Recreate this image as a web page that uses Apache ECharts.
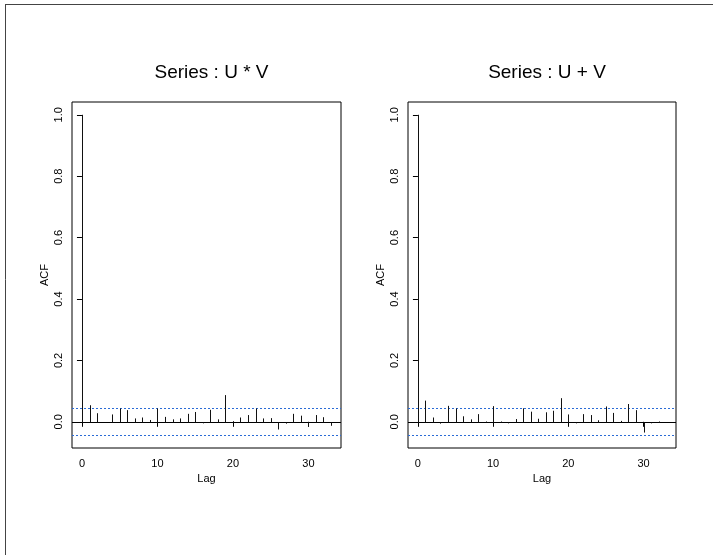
<!DOCTYPE html>
<html>
<head>
<meta charset="utf-8">
<script src="https://cdn.jsdelivr.net/npm/echarts@6/dist/echarts.min.js"></script>
<style>
  html, body { margin: 0; padding: 0; background: #fff; }
  #chart { width: 713px; height: 555px; }
</style>
</head>
<body>
<div id="chart"></div>
<script>
// lags 0..33
var lags = [0,1,2,3,4,5,6,7,8,9,10,11,12,13,14,15,16,17,18,19,20,21,22,23,24,25,26,27,28,29,30,31,32,33];

// ACF
var acfUxV = [1.0, 0.054, 0.028, -0.002, 0.024, 0.0435, 0.038, 0.011, 0.014, 0.006,
  0.0435, 0.016, 0.008, 0.011, 0.026, 0.032, -0.005, 0.039, 0.008, 0.087,
  0.002, 0.014, 0.022, 0.0435, 0.011, 0.012, -0.025, -0.006, 0.026, 0.02,
  -0.016, 0.022, 0.015, -0.013];
var acfUpV = [1.0, 0.069, 0.014, -0.006, 0.052, 0.0435, 0.018, 0.008, 0.025, 0.001,
  0.051, 0.001, -0.005, 0.009, 0.044, 0.033, 0.01, 0.031, 0.036, 0.077,
  0.024, -0.005, 0.025, 0.022, 0.005, 0.05, 0.029, 0.003, 0.058, 0.038,
  -0.035, -0.005, 0.001, -0.002];

var titles = ['Series : U * V', 'Series : U + V'];
var xTicks = [0, 10, 20, 30];
var yTicks = [0, 0.2, 0.4, 0.6, 0.8, 1.0];
var ciLevel = 0.0436;
var refLevels = [ciLevel, -ciLevel, 0];

var FONT = '"Liberation Sans", Arial, sans-serif';

var grids = [
  { left: 72, top: 102, width: 269, height: 346 },
  { left: 408, top: 102, width: 268, height: 346 }
];

var myChart = echarts.init(document.getElementById('chart'), null, { renderer: 'canvas' });

function spikeItem(params, api) {
  var p0 = api.coord([api.value(0), 0]);
  var p1 = api.coord([api.value(0), api.value(1)]);
  var x = Math.round(p0[0]) + 0.5;
  return {
    type: 'line',
    shape: { x1: x, y1: Math.round(p0[1]) + 0.5, x2: x, y2: p1[1] },
    style: { stroke: '#111', lineWidth: 1 }
  };
}

// horizontal reference lines (zero + confidence bounds), full width of the plot
function refItem(params, api) {
  var v = api.value(0);
  var cs = params.coordSys;
  var y = Math.round(api.coord([0, v])[1]) + 0.5;
  var isZero = v === 0;
  return {
    type: 'line',
    shape: { x1: cs.x, y1: y, x2: cs.x + cs.width, y2: y },
    style: isZero
      ? { stroke: '#000', lineWidth: 1 }
      : { stroke: '#2a6bd6', lineWidth: 1, lineDash: [2, 2] }
  };
}

var option = {
  animation: false,
  backgroundColor: '#fff',
  textStyle: { fontFamily: FONT },
  title: [],
  grid: [],
  xAxis: [],
  yAxis: [],
  series: [],
  graphic: [
    { type: 'line', shape: { x1: 5, y1: 4.5, x2: 713, y2: 4.5 }, style: { stroke: '#444', lineWidth: 1 } },
    { type: 'line', shape: { x1: 5.5, y1: 4, x2: 5.5, y2: 555 }, style: { stroke: '#444', lineWidth: 1 } }
  ]
};

[acfUxV, acfUpV].forEach(function (acf, i) {
  var g = grids[i];
  option.title.push({
    text: titles[i],
    left: g.left + g.width / 2,
    textAlign: 'center',
    top: 58,
    textStyle: { fontFamily: FONT, fontSize: 19, fontWeight: 'normal', color: '#000' }
  });
  option.grid.push({
    left: g.left, top: g.top, width: g.width, height: g.height,
    show: true, borderColor: '#000', borderWidth: 1, backgroundColor: 'transparent'
  });
  option.xAxis.push({
    type: 'value', gridIndex: i, min: -1.32, max: 34.32,
    name: 'Lag', nameLocation: 'middle', nameGap: 22,
    nameTextStyle: { fontFamily: FONT, fontSize: 11, color: '#000' },
    axisLine: { show: false },
    splitLine: { show: false },
    axisTick: { show: true, length: 5, lineStyle: { color: '#000' }, customValues: xTicks },
    axisLabel: { fontFamily: FONT, fontSize: 11, color: '#000', margin: 10, customValues: xTicks }
  });
  option.yAxis.push({
    type: 'value', gridIndex: i, min: -0.0853, max: 1.0417,
    name: 'ACF', nameLocation: 'middle', nameGap: 22, nameRotate: 90,
    nameTextStyle: { fontFamily: FONT, fontSize: 11, color: '#000' },
    axisLine: { show: false },
    splitLine: { show: false },
    axisTick: { show: true, length: 5, lineStyle: { color: '#000' }, customValues: yTicks },
    axisLabel: {
      fontFamily: FONT, fontSize: 11, color: '#000', rotate: 90, margin: 8,
      customValues: yTicks,
      formatter: function (v) { return v.toFixed(1); }
    }
  });
  option.series.push({
    type: 'custom',
    xAxisIndex: i, yAxisIndex: i,
    renderItem: refItem,
    data: refLevels.map(function (v) { return [v]; }),
    encode: { y: 0 },
    silent: true
  });
  option.series.push({
    type: 'custom',
    xAxisIndex: i, yAxisIndex: i,
    renderItem: spikeItem,
    data: lags.map(function (l, k) { return [l, acf[k]]; }),
    silent: true
  });
});

myChart.setOption(option);
</script>
</body>
</html>
